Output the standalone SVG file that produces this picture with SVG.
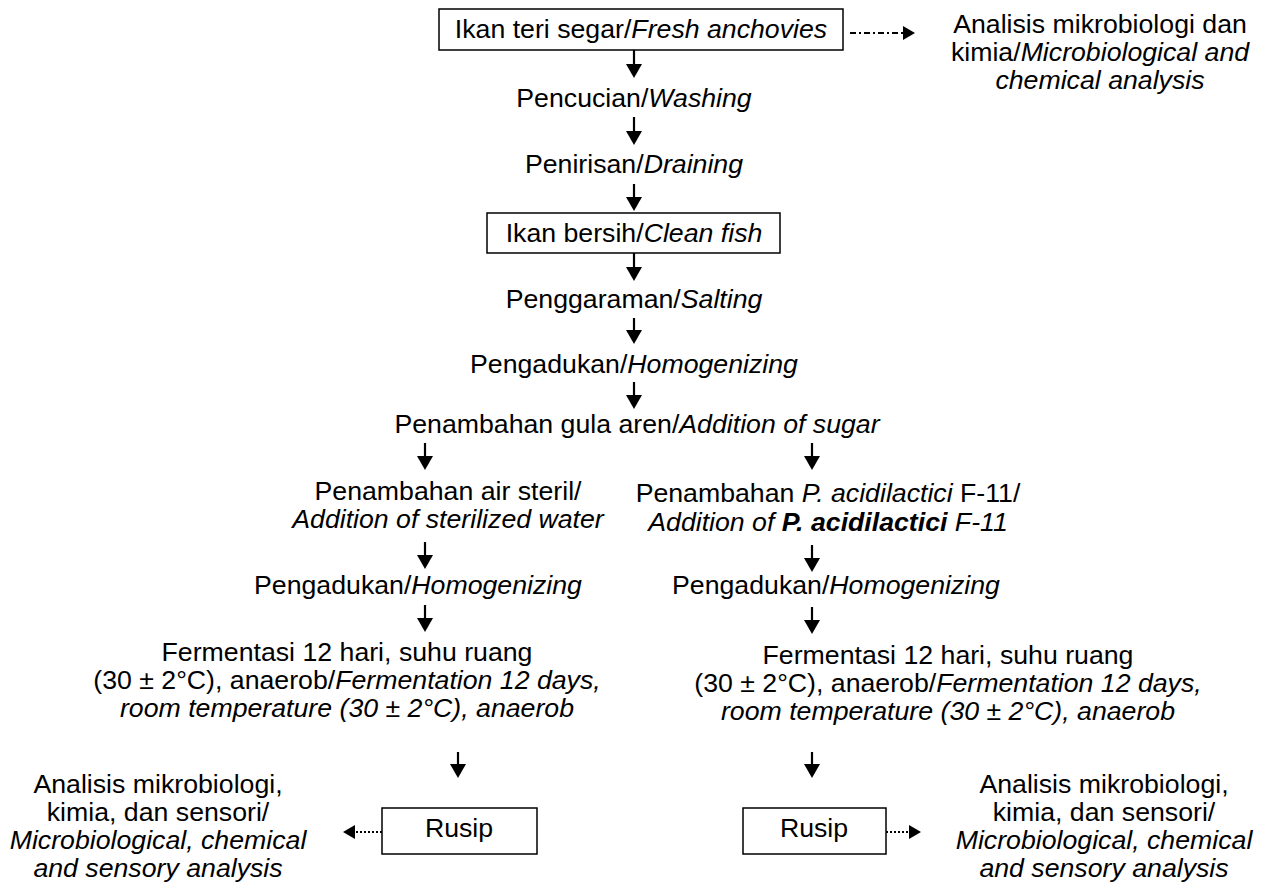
<svg xmlns="http://www.w3.org/2000/svg" width="1268" height="895" viewBox="0 0 1268 895">
<defs>
<marker id="ah" viewBox="0 0 14 16" refX="0" refY="8" markerWidth="14" markerHeight="16" markerUnits="userSpaceOnUse" orient="auto">
<path d="M0,0 L14,8 L0,16 z" fill="#000"/>
</marker>
<marker id="ahs" viewBox="0 0 12 14" refX="0" refY="7" markerWidth="12" markerHeight="14" markerUnits="userSpaceOnUse" orient="auto">
<path d="M0,0 L12,7 L0,14 z" fill="#000"/>
</marker>
<style>
text{font-family:"Liberation Sans",Arial,sans-serif;font-size:26.7px;fill:#000;text-anchor:middle}
.i{font-style:italic}
.b{font-weight:bold}
.box{fill:#fff;stroke:#000;stroke-width:1.5}
.ar{stroke:#000;stroke-width:2.2;fill:none;marker-end:url(#ah)}
.dd{stroke:#000;stroke-width:2;fill:none;stroke-dasharray:6 3 2 3;marker-end:url(#ahs)}
.dt{stroke:#000;stroke-width:2;fill:none;stroke-dasharray:2 2;marker-end:url(#ahs)}
</style>
</defs>
<rect width="1268" height="895" fill="#fff"/>
<g id="connectors">
<line class="ar" x1="634" y1="50" x2="634" y2="64"/>
<line class="ar" x1="634" y1="117" x2="634" y2="131"/>
<line class="ar" x1="634" y1="184" x2="634" y2="197"/>
<line class="ar" x1="634" y1="253" x2="634" y2="267"/>
<line class="ar" x1="634" y1="318" x2="634" y2="330"/>
<line class="ar" x1="634" y1="382" x2="634" y2="395"/>
<line class="ar" x1="425" y1="443" x2="425" y2="456"/>
<line class="ar" x1="812" y1="443" x2="812" y2="456"/>
<line class="ar" x1="425" y1="542" x2="425" y2="555"/>
<line class="ar" x1="812" y1="545" x2="812" y2="558"/>
<line class="ar" x1="425" y1="605" x2="425" y2="618"/>
<line class="ar" x1="812" y1="607" x2="812" y2="620"/>
<line class="ar" x1="458" y1="752" x2="458" y2="764"/>
<line class="ar" x1="812" y1="752" x2="812" y2="764"/>
<line class="dd" x1="850" y1="33" x2="903" y2="33"/>
<line class="dt" x1="382" y1="832" x2="355" y2="832"/>
<line class="dt" x1="886" y1="832" x2="909" y2="832"/>
</g>
<g id="n1"><rect class="box" x="439" y="9" width="404" height="41"/><text x="641" y="38">Ikan teri segar/<tspan class="i">Fresh anchovies</tspan></text></g>
<g id="n1a"><text x="1100" y="33">Analisis mikrobiologi dan</text><text x="1100" y="61">kimia/<tspan class="i">Microbiological and</tspan></text><text x="1100" y="89" class="i">chemical analysis</text></g>
<g id="n2"><text x="634" y="107">Pencucian/<tspan class="i">Washing</tspan></text></g>
<g id="n3"><text x="634" y="173">Penirisan/<tspan class="i">Draining</tspan></text></g>
<g id="n4"><rect class="box" x="487" y="213" width="293" height="40"/><text x="634" y="242">Ikan bersih/<tspan class="i">Clean fish</tspan></text></g>
<g id="n5"><text x="634" y="308">Penggaraman/<tspan class="i">Salting</tspan></text></g>
<g id="n6"><text x="634" y="373">Pengadukan/<tspan class="i">Homogenizing</tspan></text></g>
<g id="n7"><text x="637" y="433">Penambahan gula aren/<tspan class="i">Addition of sugar</tspan></text></g>
<g id="n8"><text x="448" y="500">Penambahan air steril/</text><text x="448" y="528" class="i">Addition of sterilized water</text></g>
<g id="n9"><text x="828" y="502">Penambahan <tspan class="i">P. acidilactici</tspan> F-11/</text><text x="828" y="531" class="i">Addition of <tspan class="b">P. acidilactici</tspan> F-11</text></g>
<g id="n10"><text x="418" y="594">Pengadukan/<tspan class="i">Homogenizing</tspan></text></g>
<g id="n11"><text x="836" y="594">Pengadukan/<tspan class="i">Homogenizing</tspan></text></g>
<g id="n12"><text x="347" y="661">Fermentasi 12 hari, suhu ruang</text><text x="347" y="689">(30 ± 2°C), anaerob/<tspan class="i">Fermentation 12 days,</tspan></text><text x="347" y="717" class="i">room temperature (30 ± 2°C), anaerob</text></g>
<g id="n13"><text x="948" y="664">Fermentasi 12 hari, suhu ruang</text><text x="948" y="692">(30 ± 2°C), anaerob/<tspan class="i">Fermentation 12 days,</tspan></text><text x="948" y="720" class="i">room temperature (30 ± 2°C), anaerob</text></g>
<g id="n14"><rect class="box" x="382" y="808" width="155" height="46"/><text x="459" y="837">Rusip</text></g>
<g id="n15"><rect class="box" x="743" y="808" width="143" height="46"/><text x="814" y="837">Rusip</text></g>
<g id="n16"><text x="158" y="793">Analisis mikrobiologi,</text><text x="158" y="821">kimia, dan sensori/</text><text x="158" y="849" class="i">Microbiological, chemical</text><text x="158" y="877" class="i">and sensory analysis</text></g>
<g id="n17"><text x="1104" y="793">Analisis mikrobiologi,</text><text x="1104" y="821">kimia, dan sensori/</text><text x="1104" y="849" class="i">Microbiological, chemical</text><text x="1104" y="877" class="i">and sensory analysis</text></g>
</svg>
